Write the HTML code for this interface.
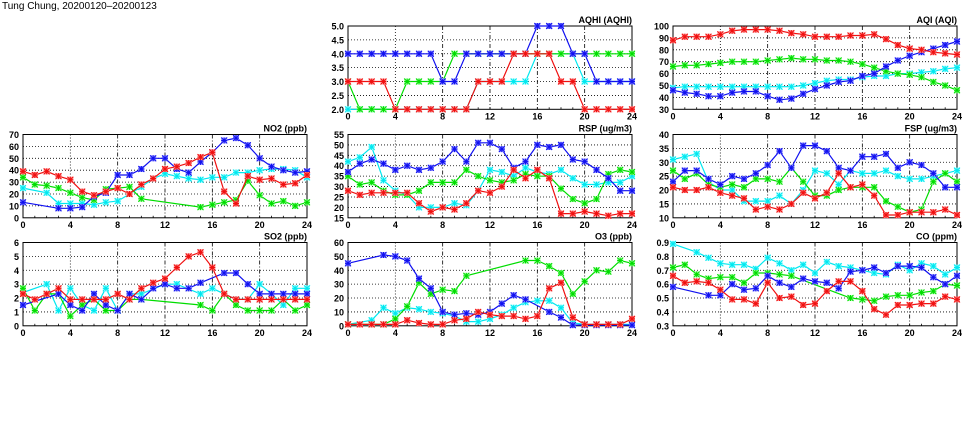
<!DOCTYPE html>
<html><head><meta charset="utf-8"><style>
body{margin:0;background:#fff;}
svg{display:block;font-family:"Liberation Sans",sans-serif;}
</style></head><body>
<svg id="fig" width="975" height="447" viewBox="0 0 975 447">
<text x="2" y="9" font-size="10">Tung Chung, 20200120–20200123</text>
</svg>
<script>
const hours=[0,1,2,3,4,5,6,7,8,9,10,11,12,13,14,15,16,17,18,19,20,21,22,23,24];
const xTicks=[0,4,8,12,16,20,24];
const N=null;
// AQHI
const aqhiCyan=[2,2,2,2,2,2,2,2,2,2,2,3,3,3,3,3,4,4,4,4,3,3,3,3,3];
const aqhiGreen=[3,2,2,2,2,3,3,3,3,4,4,4,4,4,4,4,4,4,4,4,4,4,4,4,4];
const aqhiBlue=[4,4,4,4,4,4,4,4,3,3,4,4,4,4,4,4,5,5,5,4,4,3,3,3,3];
const aqhiRed=[3,3,3,3,2,2,2,2,2,2,2,3,3,3,4,4,4,4,3,3,2,2,2,2,2];
// AQI
const aqiCyan=[48,49,49,49,49,49,49,49,49,49,49,50,52,54,55,55,57,58,58,60,60,61,62,64,65];
const aqiGreen=[66,67,67,68,69,70,70,70,71,72,73,72,72,71,71,70,68,65,62,60,59,57,53,50,46];
const aqiBlue=[46,44,43,41,41,44,45,45,41,38,39,43,47,50,53,54,58,60,66,71,75,78,81,84,87];
const aqiRed=[88,91,91,91,93,96,97,97,97,96,94,93,91,91,91,92,92,93,89,84,81,80,78,77,76];
// NO2
const no2Cyan=[25,N,21,12,12,12,11,13,14,20,26,33,37,35,33,32,34,34,38,38,40,41,41,40,34];
const no2Green=[34,28,27,25,21,17,15,24,25,26,16,N,N,N,N,9,11,13,15,31,19,12,14,10,13];
const no2Blue=[13,N,N,8,8,9,18,21,36,36,41,50,50,41,38,47,55,65,67,61,50,43,40,38,39];
const no2Red=[39,36,39,35,32,22,19,22,25,20,28,33,41,43,46,51,55,22,12,35,32,33,28,29,36];
// RSP
const rspCyan=[42,44,49,33,28,26,20,20,20,22,21,28,38,37,35,39,37,36,38,34,31,31,32,32,35];
const rspGreen=[35,31,32,28,26,26,28,32,32,32,38,35,33,32,33,36,35,35,29,24,22,24,36,38,37];
const rspBlue=[37,41,43,41,38,40,38,39,42,48,42,51,51,48,39,42,50,49,50,43,42,38,34,28,28];
const rspRed=[28,26,27,27,27,27,22,18,20,19,22,28,27,30,38,34,38,34,17,17,18,17,16,17,17];
// FSP
const fspCyan=[31,32,33,23,20,20,16,16,16,18,15,20,27,26,22,27,26,26,27,25,24,24,25,26,27];
const fspGreen=[27,24,26,22,21,22,21,24,24,23,28,23,18,18,20,21,21,21,16,14,12,13,23,26,23];
const fspBlue=[23,27,27,24,22,25,24,26,29,34,28,36,36,34,28,27,32,32,33,28,30,29,26,21,21];
const fspRed=[21,20,20,21,19,18,17,13,14,13,15,19,17,19,26,21,22,18,11,11,12,12,12,13,11];
// SO2
const so2Cyan=[2.4,N,3.0,1.1,2.7,1.5,1.1,2.7,1.1,2.3,2.3,N,3.0,3.0,N,2.3,2.7,2.3,1.9,1.9,3.0,2.3,1.5,2.7,2.7];
const so2Green=[2.7,1.1,2.3,2.3,0.7,1.5,1.9,1.1,1.1,1.9,1.9,N,N,N,N,1.5,1.1,2.3,1.5,1.1,1.1,1.1,1.9,1.1,1.5];
const so2Blue=[1.5,N,N,2.3,1.5,1.1,2.3,1.5,1.1,2.3,1.9,2.7,3.0,2.7,2.7,3.1,N,3.8,3.8,3.0,2.3,2.3,2.3,2.3,2.3];
const so2Red=[2.3,1.9,2.3,2.7,1.9,1.9,1.9,1.9,2.3,1.9,2.7,3.1,3.4,4.2,5.0,5.3,4.2,2.3,1.9,1.9,1.9,1.9,1.9,1.9,1.9];
// O3
const o3Cyan=[1,N,4,13,9,13,12,10,9,7,3,3,5,8,13,17,18,18,13,2,1,1,1,1,1];
const o3Green=[1,N,1,1,5,14,31,23,26,25,36,N,N,N,N,47,47,43,38,23,32,40,39,47,45];
const o3Blue=[45,N,N,51,50,47,34,27,10,8,9,8,10,16,22,19,N,10,6,0.5,0.5,0.5,0.5,0.5,0.5];
const o3Red=[1,1,1,1,1,4,2,1,1,4,5,10,8,7,7,5,7,27,31,6,1,1,1,1,5];
// CO
const coCyan=[0.89,N,0.83,0.79,0.75,0.74,0.74,0.71,0.79,0.75,0.70,0.74,0.68,0.76,0.73,0.72,0.70,0.68,0.67,0.74,0.70,0.75,0.73,0.67,0.72];
const coGreen=[0.72,0.74,0.67,0.64,0.65,0.65,0.61,0.68,0.68,0.67,0.66,N,N,N,N,0.50,0.49,0.48,0.51,0.52,0.52,0.54,0.55,0.60,0.59];
const coBlue=[0.58,N,N,0.52,0.52,0.60,0.56,0.57,0.66,0.61,0.58,0.64,0.62,0.61,0.57,0.69,0.70,0.72,0.68,0.73,0.73,0.72,0.65,0.60,0.66];
const coRed=[0.66,0.61,0.62,0.61,0.56,0.49,0.49,0.46,0.61,0.50,0.51,0.45,0.46,0.55,0.62,0.62,0.55,0.42,0.38,0.45,0.45,0.46,0.46,0.51,0.49];

const aqhiTicks=[2.0,2.5,3.0,3.5,4.0,4.5,5.0];
const aqiTicks=[30,40,50,60,70,80,90,100];
const no2Ticks=[0,10,20,30,40,50,60,70];
const rspTicks=[15,20,25,30,35,40,45,50,55];
const fspTicks=[10,15,20,25,30,35,40];
const so2Ticks=[0,1,2,3,4,5,6];
const o3Ticks=[0,10,20,30,40,50,60];
const coTicks=[0.3,0.4,0.5,0.6,0.7,0.8,0.9];

const COL={cyan:["#00e8f0","#a0ffff"],green:["#00dd00","#a0ffa0"],blue:["#1010f0","#9090ff"],red:["#f01010","#ff9090"]};
const NS="http://www.w3.org/2000/svg";
const svg=document.getElementById('fig');
function mk(tag,attrs,parent){const e=document.createElementNS(NS,tag);for(const k in attrs)e.setAttribute(k,attrs[k]);(parent||svg).appendChild(e);return e;}

const panels=[
 {key:'aqhi',title:'AQHI (AQHI)',col:1,row:0,ticks:aqhiTicks,dec:1,s:{cyan:aqhiCyan,green:aqhiGreen,blue:aqhiBlue,red:aqhiRed}},
 {key:'aqi',title:'AQI (AQI)',col:2,row:0,ticks:aqiTicks,dec:0,s:{cyan:aqiCyan,green:aqiGreen,blue:aqiBlue,red:aqiRed}},
 {key:'no2',title:'NO2 (ppb)',col:0,row:1,ticks:no2Ticks,dec:0,s:{cyan:no2Cyan,green:no2Green,blue:no2Blue,red:no2Red}},
 {key:'rsp',title:'RSP (ug/m3)',col:1,row:1,ticks:rspTicks,dec:0,s:{cyan:rspCyan,green:rspGreen,blue:rspBlue,red:rspRed}},
 {key:'fsp',title:'FSP (ug/m3)',col:2,row:1,ticks:fspTicks,dec:0,s:{cyan:fspCyan,green:fspGreen,blue:fspBlue,red:fspRed}},
 {key:'so2',title:'SO2 (ppb)',col:0,row:2,ticks:so2Ticks,dec:0,s:{cyan:so2Cyan,green:so2Green,blue:so2Blue,red:so2Red}},
 {key:'o3',title:'O3 (ppb)',col:1,row:2,ticks:o3Ticks,dec:0,s:{cyan:o3Cyan,green:o3Green,blue:o3Blue,red:o3Red}},
 {key:'co',title:'CO (ppm)',col:2,row:2,ticks:coTicks,dec:1,s:{cyan:coCyan,green:coGreen,blue:coBlue,red:coRed}}
];
const colX=[23,348,673], rowY=[26,134.5,242.5], W=284, H=83.3;

panels.forEach(p=>{
  const x0=colX[p.col], y0=rowY[p.row];
  const lo=p.ticks[0], hi=p.ticks[p.ticks.length-1];
  const xs=h=>x0+h/24*W;
  const ys=v=>y0+H-(v-lo)/(hi-lo)*H;
  const g=mk('g',{});
  
  
  // grid
  p.ticks.slice(1,-1).forEach(t=>{
    const l=mk('line',{x1:x0,x2:x0+W,y1:ys(t),y2:ys(t),stroke:'#000','stroke-width':0.8,'stroke-dasharray':'1,2'},g);
    
    
  });
  xTicks.slice(1,-1).forEach(t=>{
    const l=mk('line',{x1:xs(t),x2:xs(t),y1:y0,y2:y0+H,stroke:'#000','stroke-width':0.8,'stroke-dasharray':t===4?'1,2':'4,2,1,2'},g);
    
    
  });
  // minor ticks
  hours.forEach(h=>{mk('line',{x1:xs(h),x2:xs(h),y1:y0+H,y2:y0+H-2,stroke:'#000','stroke-width':0.8},g);});
  // frame
  const fr=mk('rect',{x:x0,y:y0,width:W,height:H,fill:'none',stroke:'#000','stroke-width':1},g);
  
  
  // y labels
  p.ticks.forEach(t=>{
    const tx=mk('text',{x:x0-4,y:ys(t)+3.5,'font-size':9,'font-weight':'bold','text-anchor':'end'},g);
    tx.textContent=t.toFixed(p.dec);
    
    
  });
  xTicks.forEach(t=>{
    const tx=mk('text',{x:xs(t),y:y0+H+10,'font-size':9,'font-weight':'bold','text-anchor':'middle'},g);
    tx.textContent=t;
    
    
  });
  const tt=mk('text',{x:x0+W,y:y0-3,'font-size':9,'font-weight':'bold','text-anchor':'end'},g);
  tt.textContent=p.title;
  
  
  // series
  ['cyan','green','blue','red'].forEach(c=>{
    const vals=p.s[c];
    const sg=mk('g',{},g);
    
    
    const pts=[];
    vals.forEach((v,i)=>{if(v!==null)pts.push([xs(hours[i]),ys(v)]);});
    const pl=mk('polyline',{points:pts.map(q=>q[0].toFixed(1)+','+q[1].toFixed(1)).join(' '),fill:'none',stroke:COL[c][0],'stroke-width':1.2},sg);
    
    
    pts.forEach(q=>{
      const [x,y]=q, r=3;
      const m=mk('g',{},sg);
      
      
      mk('rect',{x:x-r,y:y-r,width:2*r,height:2*r,fill:COL[c][1],stroke:'none'},m);
      mk('path',{d:`M${x-r},${y-r}L${x+r},${y+r}M${x-r},${y+r}L${x+r},${y-r}M${x},${y-r}L${x},${y+r}M${x-r},${y}L${x+r},${y}`,stroke:COL[c][0],'stroke-width':1,fill:'none'},m);
    });
  });
});
</script>
</body></html>
